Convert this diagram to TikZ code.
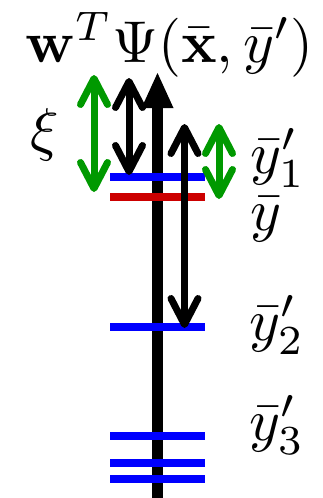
\documentclass[tikz,border=0pt]{standalone}
\usetikzlibrary{arrows.meta}
\definecolor{lvlblue}{RGB}{0,0,255}
\definecolor{lvlred}{RGB}{204,0,0}
\definecolor{arrgreen}{RGB}{0,153,0}
\tikzset{
  bigfont/.style={font=\normalsize, scale=5.9, inner sep=0pt},
  mainaxis/.style={line width=11.5pt, -{Triangle[length=35pt,width=32pt,line width=0pt]}},
  barbarrow/.style={line width=7pt, {Straight Barb[length=26pt,width=27pt,round]}-{Straight Barb[length=26pt,width=27pt,round]}},
  level/.style={line width=8pt},
}
\begin{document}
\begin{tikzpicture}[x=1pt,y=-1pt]
\useasboundingbox (0,0) rectangle (322,498);
% coordinates
\coordinate (mainbot) at (157.5,505);
\coordinate (maintop) at (157.5,73);
\foreach \n/\y in {b1/176.5,r/197,b2/327,b3/436,b4/462.5,b5/478.7}{
  \coordinate (\n L) at (110,\y);
  \coordinate (\n R) at (205,\y);
}
\coordinate (gLt) at (94,75);   \coordinate (gLb) at (94,192);
\coordinate (kLt) at (129,78);  \coordinate (kLb) at (129,175);
\coordinate (gRt) at (219,124); \coordinate (gRb) at (219,199);
\coordinate (kRt) at (184.5,124); \coordinate (kRb) at (184.5,328);
% main axis
\draw[mainaxis] (mainbot) -- (maintop);
% levels
\foreach \n in {b1,b2,b3,b4,b5}{\draw[level,lvlblue] (\n L) -- (\n R);}
\draw[level,lvlred] (rL) -- (rR);
% double arrows
\draw[barbarrow,arrgreen] (gLt) -- (gLb);
\draw[barbarrow,black] (kLt) -- (kLb);
\draw[barbarrow,arrgreen] (gRt) -- (gRb);
\draw[barbarrow,black] (kRt) -- (kRb);
% labels
\node[bigfont,anchor=base west] (title) at (24,62) {$\mathbf{w}^T\Psi(\bar{\mathbf{x}},\bar{y}')$};
\node[bigfont,anchor=center] (xi) at (45,135) {$\xi$};
\node[bigfont,anchor=base west] (l1) at (249,173) {${\bar{y}'}_1$};
\node[bigfont,anchor=base west] (l0) at (249,230) {$\bar{y}$};
\node[bigfont,anchor=base west] (l2) at (248,340) {${\bar{y}'}_2$};
\node[bigfont,anchor=base west] (l3) at (248,440) {${\bar{y}'}_3$};
\end{tikzpicture}
\end{document}
